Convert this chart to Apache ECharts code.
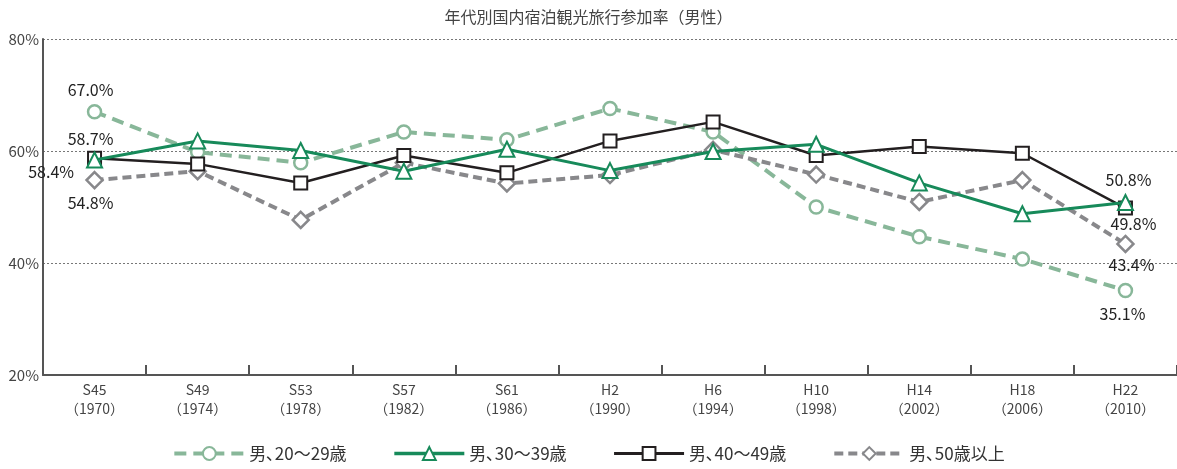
<!DOCTYPE html>
<html><head><meta charset="utf-8">
<script src="https://cdn.jsdelivr.net/npm/echarts@6/dist/echarts.min.js"></script>
<style>html,body{margin:0;padding:0;background:#fff}#c{width:1177px;height:469px}</style>
</head><body><div id="c"></div>
<script>
const title = '年代別国内宿泊観光旅行参加率（男性）';
const categories = ['S45\n（1970）','S49\n（1974）','S53\n（1978）','S57\n（1982）','S61\n（1986）','H2\n（1990）','H6\n（1994）','H10\n（1998）','H14\n（2002）','H18\n（2006）','H22\n（2010）'];
const seriesNames = ['男､20～29歳','男､30～39歳','男､40～49歳','男､50歳以上'];
const age20s = [67.0, 59.8, 57.9, 63.4, 62.0, 67.6, 63.4, 50.0, 44.7, 40.7, 35.1];
const age30s = [58.4, 61.8, 60.1, 56.4, 60.3, 56.5, 59.9, 61.2, 54.3, 48.8, 50.8];
const age40s = [58.7, 57.7, 54.3, 59.2, 56.1, 61.8, 65.2, 59.2, 60.8, 59.6, 49.8];
const age50s = [54.8, 56.4, 47.7, 57.9, 54.2, 55.7, 60.2, 55.8, 50.9, 54.8, 43.4];
const yTicks = [20, 40, 60, 80];

const FONT = '"Noto Sans CJK JP", "Noto Sans", sans-serif';
const labelBase = {show:true, formatter: p => p.value.toFixed(1) + '%', color:'#222', fontSize:16, fontFamily:FONT};

function withLabels(arr, first, last) {
  return arr.map((v, i) => {
    if (i === 0 && first) return {value:v, label:Object.assign({}, labelBase, first)};
    if (i === arr.length - 1 && last) return {value:v, label:Object.assign({}, labelBase, last)};
    return v;
  });
}

const colors = ['#88b799', '#178a5a', '#231f20', '#88888b'];
const chart = echarts.init(document.getElementById('c'));
chart.setOption({
  animation:false,
  backgroundColor:'#fff',
  title:{text:title, left:'center', top:4, textStyle:{fontSize:16, fontWeight:'normal', color:'#444', fontFamily:FONT}},
  grid:{left:43, right:0, top:39, bottom:94},
  legend:{
    bottom:2, left:'center', itemWidth:70, itemHeight:16, itemGap:46,
    textStyle:{fontSize:17, color:'#333', fontFamily:FONT},
    data:[
      {name:seriesNames[0], lineStyle:{width:4}},
      {name:seriesNames[1], lineStyle:{width:3.5}},
      {name:seriesNames[2], lineStyle:{width:3}},
      {name:seriesNames[3], lineStyle:{width:4}}
    ]
  },
  xAxis:{
    type:'category', data:categories, boundaryGap:true,
    axisLine:{lineStyle:{color:'#555', width:2}},
    axisTick:{show:true, inside:true, length:10, lineStyle:{color:'#555', width:2}},
    axisLabel:{color:'#444', fontSize:14, lineHeight:19, fontFamily:FONT, margin:5}
  },
  yAxis:{
    type:'value', min:yTicks[0], max:yTicks[yTicks.length-1], interval:20,
    axisLine:{show:true, lineStyle:{color:'#555', width:2}},
    axisTick:{show:false},
    axisLabel:{formatter:'{value}%', color:'#444', fontSize:15, fontFamily:FONT, margin:4},
    splitLine:{show:true, lineStyle:{color:'#777', type:[2,2], width:1}}
  },
  series:[
    {name:seriesNames[0], type:'line', data:withLabels(age20s,
        {position:'top', distance:6, offset:[-4,0]},
        {position:'bottom', distance:8, offset:[-3,0]}),
      symbol:'circle', symbolSize:13, showAllSymbol:true,
      lineStyle:{color:colors[0], width:4, type:[12,7]},
      itemStyle:{color:'#fff', borderColor:colors[0], borderWidth:2.5},
      label:{show:false}, z:2},
    {name:seriesNames[1], type:'line', data:withLabels(age30s,
        {position:'left', distance:4, offset:[-8,12]},
        {position:'top', distance:6, offset:[3,0]}),
      symbol:'triangle', symbolSize:15, showAllSymbol:true,
      lineStyle:{color:colors[1], width:3},
      itemStyle:{color:'#fff', borderColor:colors[1], borderWidth:2},
      label:{show:false}, z:4},
    {name:seriesNames[2], type:'line', data:withLabels(age40s,
        {position:'top', distance:4, offset:[-4,0]},
        {position:'bottom', distance:0, offset:[8,0]}),
      symbol:'rect', symbolSize:13, showAllSymbol:true,
      lineStyle:{color:colors[2], width:2.5},
      itemStyle:{color:'#fff', borderColor:colors[2], borderWidth:2},
      label:{show:false}, z:3},
    {name:seriesNames[3], type:'line', data:withLabels(age50s,
        {position:'bottom', distance:6, offset:[-4,0]},
        {position:'bottom', distance:4, offset:[6,0]}),
      symbol:'diamond', symbolSize:16, showAllSymbol:true,
      lineStyle:{color:colors[3], width:4, type:[9,5]},
      itemStyle:{color:'#fff', borderColor:colors[3], borderWidth:2.5},
      label:{show:false}, z:2}
  ]
});
</script></body></html>
